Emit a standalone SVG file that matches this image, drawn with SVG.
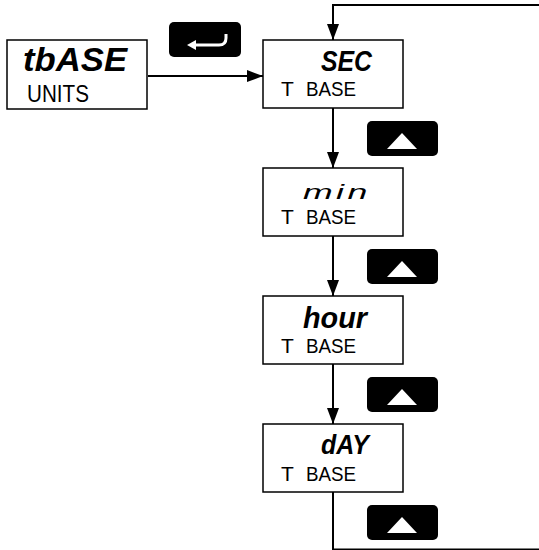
<svg xmlns="http://www.w3.org/2000/svg" width="539" height="550" viewBox="0 0 539 550">
<defs>
<style>
.box{fill:#fff;stroke:#000;stroke-width:1.5}
.btn{fill:#000}
.conn{fill:none;stroke:#000;stroke-width:2}
.main{font-family:"Liberation Sans","DejaVu Sans",sans-serif;font-style:italic;font-weight:bold;fill:#000}
.sub{font-family:"Liberation Sans","DejaVu Sans",sans-serif;font-size:21px;fill:#000}
.tri{fill:#fff}
</style>
<marker id="ah" markerWidth="16" markerHeight="12" refX="16" refY="6" orient="auto" markerUnits="userSpaceOnUse"><path d="M0,0 L16,6 L0,12 z" fill="#000"/></marker>
</defs>
<rect width="539" height="550" fill="#fff"/>
<g id="connectors">
<line class="conn" x1="148" y1="76" x2="263" y2="76" marker-end="url(#ah)"/>
<polyline class="conn" points="539,5 333,5 333,40" marker-end="url(#ah)"/>
<line class="conn" x1="333" y1="108" x2="333" y2="168" marker-end="url(#ah)"/>
<line class="conn" x1="333" y1="236" x2="333" y2="296" marker-end="url(#ah)"/>
<line class="conn" x1="333" y1="364" x2="333" y2="424" marker-end="url(#ah)"/>
<polyline class="conn" points="333,492 333,549.5 539,549.5"/>
</g>
<g id="node-tbase">
<rect class="box" x="7" y="40" width="140" height="69"/>
<text class="main" x="23" y="71" font-size="33" textLength="104" lengthAdjust="spacingAndGlyphs">tbASE</text>
<text class="sub" x="27" y="102" style="font-size:23px" textLength="62" lengthAdjust="spacingAndGlyphs">UNITS</text>
</g>
<g id="btn-enter">
<rect class="btn" x="169" y="22" width="72" height="35" rx="5"/>
<path d="M194,45 H219 Q226,45 226,38 V34" fill="none" stroke="#fff" stroke-width="3"/>
<polygon points="187,45 196,40 196,50" fill="#fff"/>
</g>
<g id="node-sec">
<rect class="box" x="263" y="40" width="140" height="68"/>
<text class="main" x="321" y="71" font-size="29" textLength="51" lengthAdjust="spacingAndGlyphs">SEC</text>
<text class="sub" y="96"><tspan x="281">T </tspan><tspan x="306" textLength="50" lengthAdjust="spacingAndGlyphs">BASE</tspan></text>
</g>
<g id="btn-up-1">
<rect class="btn" x="367" y="121" width="71" height="35" rx="5"/>
<polygon class="tri" points="387,149 417,149 402,133"/>
</g>
<g id="node-min">
<rect class="box" x="263" y="168" width="140" height="68"/>
<text transform="translate(303,199) scale(1.7,1)" x="0" y="0" font-family="Liberation Sans, DejaVu Sans, sans-serif" font-size="21" font-style="italic" letter-spacing="2" fill="#000">min</text>
<text class="sub" y="224"><tspan x="281">T </tspan><tspan x="306" textLength="50" lengthAdjust="spacingAndGlyphs">BASE</tspan></text>
</g>
<g id="btn-up-2">
<rect class="btn" x="367" y="249" width="71" height="35" rx="5"/>
<polygon class="tri" points="387,277 417,277 402,261"/>
</g>
<g id="node-hour">
<rect class="box" x="263" y="296" width="140" height="68"/>
<text class="main" x="303" y="328" font-size="30" textLength="64" lengthAdjust="spacingAndGlyphs">hour</text>
<text class="sub" y="353"><tspan x="281">T </tspan><tspan x="306" textLength="50" lengthAdjust="spacingAndGlyphs">BASE</tspan></text>
</g>
<g id="btn-up-3">
<rect class="btn" x="367" y="377" width="71" height="35" rx="5"/>
<polygon class="tri" points="387,405 417,405 402,389"/>
</g>
<g id="node-day">
<rect class="box" x="263" y="424" width="140" height="68"/>
<text class="main" x="321" y="454" font-size="27" textLength="48" lengthAdjust="spacingAndGlyphs">dAY</text>
<text class="sub" y="481"><tspan x="281">T </tspan><tspan x="306" textLength="50" lengthAdjust="spacingAndGlyphs">BASE</tspan></text>
</g>
<g id="btn-up-4">
<rect class="btn" x="367" y="505" width="71" height="35" rx="5"/>
<polygon class="tri" points="387,533 417,533 402,517"/>
</g>
</svg>
